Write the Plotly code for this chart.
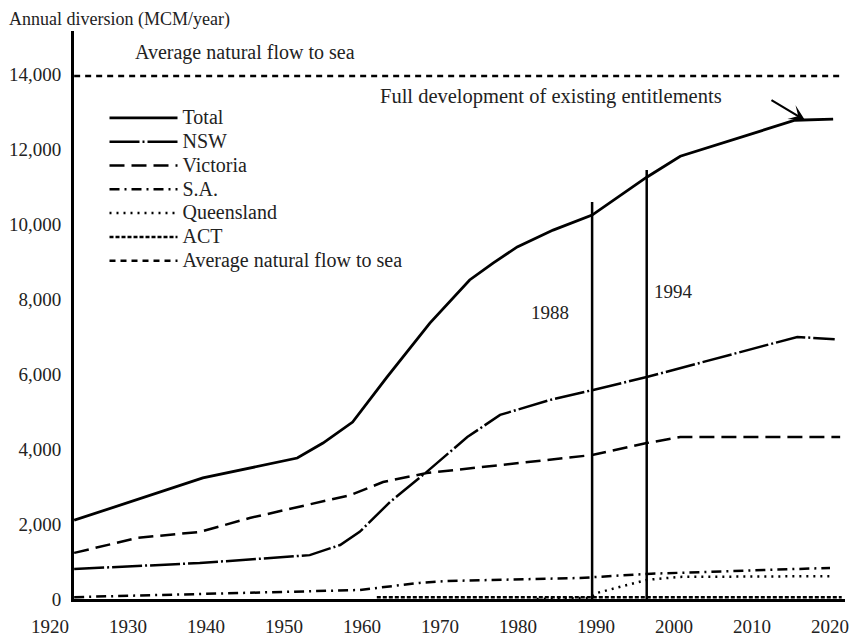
import plotly.graph_objects as go

# ---- data ----
total_years = [1923.1, 1939.6, 1951.7, 1955.0, 1958.8, 1963.2, 1968.7, 1973.8, 1976.8, 1979.9, 1984.5, 1989.5, 1996.5, 2000.8, 2015.5, 2020.4]
total_vals = [2100, 3230, 3760, 4160, 4720, 5920, 7360, 8510, 8960, 9390, 9840, 10240, 11250, 11810, 12770, 12800]

nsw_years = [1923.1, 1939.2, 1953.3, 1957.2, 1959.7, 1963.6, 1968.3, 1973.5, 1977.7, 1984.1, 1989.5, 1996.5, 2015.8, 2020.6]
nsw_vals = [800, 960, 1170, 1440, 1790, 2590, 3390, 4320, 4910, 5310, 5570, 5920, 6990, 6930]

vic_years = [1923.1, 1931.2, 1939.2, 1945.6, 1958.5, 1962.7, 1968.3, 1984.1, 1989.5, 1996.5, 2000.8, 2021.3]
vic_vals = [1230, 1630, 1790, 2160, 2770, 3120, 3360, 3710, 3840, 4160, 4320, 4320]

sa_years = [1923.1, 1949.5, 1959.7, 1967.4, 1970.9, 1987.9, 1996.5, 2020.0]
sa_vals = [50, 190, 240, 430, 480, 560, 670, 830]

qld_years = [1982.4, 1989.2, 1990.1, 1996.5, 2000.8, 2020.4]
qld_vals = [0, 30, 160, 510, 590, 610]

act_years = [1961.9, 2021.5]
act_vals = [50, 50]

flow_years = [1923.1, 2021.3]
flow_vals = [13950, 13950]

event_years = [1989.5, 1996.5]
event_tops = [10590, 11440]
event_labels = ["1988", "1994"]
event_label_years = [1984.1, 1999.9]
event_label_vals = [7650, 8210]

x_ticks = [1920, 1930, 1940, 1950, 1960, 1970, 1980, 1990, 2000, 2010, 2020]
y_ticks = [0, 2000, 4000, 6000, 8000, 10000, 12000, 14000]

FONT = "Liberation Serif, Times New Roman, serif"
TXT = "#222"
LW = 2.5

# layout geometry (pixels, inside the figure; the page adds an 8px body margin)
W, H = 859, 631
ML, MR, MT, MB = 42, 22, 23, 40
PW = W - ML - MR
PH = H - MT - MB
AXIS_PX = 66  # where the value axis sits


def big(name):
    return '<span style="font-size:20px">' + name + "</span>"


fig = go.Figure()

series = [
    ("Total", total_years, total_vals, "solid", 2.8),
    ("NSW", nsw_years, nsw_vals, "30px,3px,2px,3px", LW),
    ("Victoria", vic_years, vic_vals, "15px,7px", LW),
    ("S.A.", sa_years, sa_vals, "10px,5px,2px,5px", LW),
    ("Queensland", qld_years, qld_vals, "2px,5px", LW),
    ("ACT", act_years, act_vals, "4px,2px", LW),
    ("Average natural flow to sea", flow_years, flow_vals, "6px,5px", LW),
]
for name, xs, ys, dash, w in series:
    fig.add_trace(go.Scatter(x=xs, y=ys, mode="lines", name=big(name),
                             line=dict(color="black", width=w, dash=dash)))

for ex, et in zip(event_years, event_tops):
    fig.add_trace(go.Scatter(x=[ex, ex], y=[0, et], mode="lines", showlegend=False,
                             line=dict(color="black", width=2.5), hoverinfo="skip"))

# empty trace so the label-only axis (x2) is drawn
fig.add_trace(go.Scatter(x=[], y=[], xaxis="x2", yaxis="y", showlegend=False, hoverinfo="skip"))

for lx, ly, lt in zip(event_label_years, event_label_vals, event_labels):
    fig.add_annotation(x=lx, y=ly, text=lt, showarrow=False,
                       font=dict(family=FONT, size=19, color=TXT))

fig.add_annotation(x=1930.6, y=14580, text="Average natural flow to sea", showarrow=False,
                   xanchor="left", font=dict(family=FONT, size=20, color=TXT))
fig.add_annotation(x=1962.0, y=13390, text="Full development of existing entitlements",
                   showarrow=False, xanchor="left", font=dict(family=FONT, size=20.5, color=TXT))
fig.add_annotation(x=2016.8, y=12770, ax=2012.3, ay=13330, axref="x", ayref="y",
                   xref="x", yref="y", text="", showarrow=True, arrowhead=3,
                   arrowsize=1.2, arrowwidth=2.2, arrowcolor="black", standoff=0)

fig.add_annotation(x=(0 - ML) / PW, y=1 + MT / PH, xref="paper", yref="paper",
                   text="Annual diversion (MCM/year)", borderpad=0,
                   showarrow=False, xanchor="left", yanchor="top",
                   font=dict(family=FONT, size=18, color=TXT))

fig.update_layout(
    width=W, height=H,
    margin=dict(l=ML, r=MR, t=MT, b=MB),
    paper_bgcolor="white", plot_bgcolor="rgba(0,0,0,0)",
    font=dict(family=FONT, size=19, color=TXT),
    showlegend=True,
    legend=dict(x=(96.5 - ML) / PW, y=0.8768, xanchor="left", yanchor="top",
                bgcolor="rgba(0,0,0,0)", itemwidth=68,
                font=dict(family=FONT, size=16, color=TXT),
                tracegroupgap=0),
    xaxis=dict(domain=[(AXIS_PX - ML) / PW, 1], range=[1923.08, 2021.92],
               showticklabels=False, showgrid=False, zeroline=False,
               showline=True, linecolor="black", linewidth=3, ticks=""),
    xaxis2=dict(domain=[0, 1], range=[1920, 2021.92], anchor="y",
                tickvals=x_ticks, ticktext=[str(t) for t in x_ticks],
                showgrid=False, zeroline=False, showline=False, ticks="",
                ticklabelstandoff=14, automargin=False,
                tickfont=dict(family=FONT, size=19, color=TXT)),
    yaxis=dict(range=[0, 15150], tickvals=y_ticks, tickformat=",d", anchor="x",
               showgrid=False, zeroline=False, showline=True, linecolor="black", linewidth=3,
               ticks="", ticklabelstandoff=6, automargin=False,
               tickfont=dict(family=FONT, size=19, color=TXT)),
)

fig.write_html("out.html")
